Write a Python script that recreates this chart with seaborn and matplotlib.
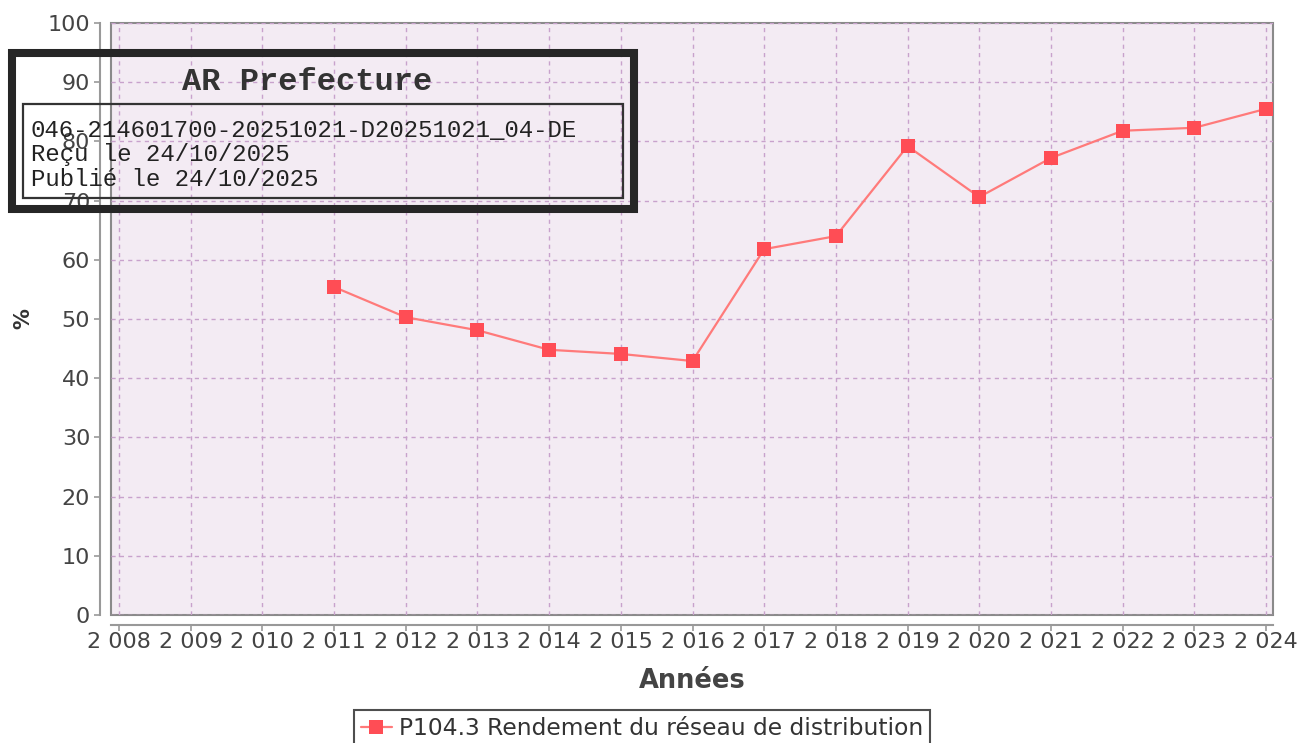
import matplotlib.pyplot as plt
import matplotlib.patches as mpatches
import pandas as pd
import seaborn as sns


years = [2011, 2012, 2013, 2014, 2015, 2016, 2017, 2018, 2019, 2020, 2021, 2022, 2023, 2024]
rendement = [55.4, 50.3, 48.1, 44.8, 44.1, 42.9, 61.8, 64.0, 79.2, 70.6, 77.2, 81.8, 82.3, 85.5]
tick_years = list(range(2008, 2025))
tick_labels = [f"{y // 1000} {y % 1000:03d}" for y in tick_years]
series_name = "P104.3 Rendement du réseau de distribution"
stamp_title = "AR Prefecture"
stamp_lines = [
    "046-214601700-20251021-D20251021_04-DE",
    "Reçu le 24/10/2025",
    "Publié le 24/10/2025",
]


def main() -> None:
    sns.set_theme(style="white")
    plt.rcParams["font.family"] = ["DejaVu Sans"]
    df = pd.DataFrame({"annee": years, "valeur": rendement, "serie": series_name})

    fig = plt.figure(figsize=(13.11, 7.43), dpi=100)
    ax = fig.add_axes([111 / 1311, 128 / 743, 1162 / 1311, 592 / 743])
    ax.set_facecolor("#F3EBF3")

    sns.lineplot(
        data=df,
        x="annee",
        y="valeur",
        hue="serie",
        palette=["#FF5555"],
        marker="s",
        markersize=10.5,
        markeredgewidth=0,
        linewidth=1.6,
        ax=ax,
        legend=False,
    )
    ax.lines[0].set_color("#FF7A7A")
    ax.lines[0].set_markerfacecolor("#FF4D55")

    ax.set_xlim(2007.888, 2024.098)
    ax.set_ylim(0, 100)
    ax.set_xticks(tick_years, tick_labels)
    ax.set_yticks(range(0, 101, 10))
    ax.grid(True, color="#C8A2CC", linestyle=(0, (3, 3)), linewidth=1.0)

    # plot border plus offset axis lines
    ax.patch.set_edgecolor("#8A8A8A")
    ax.patch.set_linewidth(1.5)
    for side in ["top", "right"]:
        ax.spines[side].set_visible(False)
    ax.spines["left"].set_position(("outward", 8))
    ax.spines["bottom"].set_position(("outward", 7))
    for side in ["left", "bottom"]:
        ax.spines[side].set_color("#999999")
        ax.spines[side].set_linewidth(1.5)
    ax.tick_params(
        axis="both",
        which="major",
        length=4,
        width=1.2,
        color="#999999",
        labelcolor="#444444",
        labelsize=16,
        left=True,
        bottom=True,
    )
    ax.tick_params(axis="x", pad=1.5)
    ax.tick_params(axis="y", pad=3)

    ax.set_xlabel("Années", fontsize=18.5, fontweight="bold", color="#444444", labelpad=11)
    ax.set_ylabel("%", fontsize=15, fontweight="bold", color="#333333")
    ax.yaxis.set_label_coords(-78 / 1162, 0.50)

    handle = plt.Line2D(
        [], [], color="#FF7A7A", marker="s", markersize=10.5,
        markerfacecolor="#FF4D55", markeredgewidth=0, linewidth=1.6,
    )
    leg = fig.legend(
        [handle], [series_name],
        loc="lower center",
        bbox_to_anchor=(642 / 1311, -4 / 743),
        fontsize=16.8,
        frameon=True,
        fancybox=False,
        handlelength=1.3,
        handletextpad=0.3,
        borderpad=0.3,
        borderaxespad=0,
    )
    leg.get_frame().set_edgecolor("#222222")
    leg.get_frame().set_linewidth(1.5)
    for text in leg.get_texts():
        text.set_color("#333333")

    # prefecture stamp overlaid on top-left
    fig.patches.append(
        mpatches.Rectangle(
            (12 / 1311, (743 - 209) / 743), 622 / 1311, 156 / 743,
            transform=fig.transFigure, fill=False, edgecolor="#262626",
            linewidth=5.8, zorder=10,
        )
    )
    fig.patches.append(
        mpatches.Rectangle(
            (23 / 1311, (743 - 198) / 743), 600 / 1311, 94 / 743,
            transform=fig.transFigure, fill=False, edgecolor="#333333",
            linewidth=1.6, zorder=10,
        )
    )
    fig.text(
        307 / 1311, (743 - 82) / 743, stamp_title,
        family="Liberation Mono", fontweight="bold", fontsize=23,
        color="#333333", ha="center", va="center", zorder=11,
    )
    for i, line in enumerate(stamp_lines):
        fig.text(
            31 / 1311, (743 - 130 - i * 24.5) / 743, line,
            family="Liberation Mono", fontsize=17.3, color="#222222",
            ha="left", va="center", zorder=11,
        )

    fig.savefig("out.png", dpi=100)
    plt.close(fig)


if __name__ == "__main__":
    main()
